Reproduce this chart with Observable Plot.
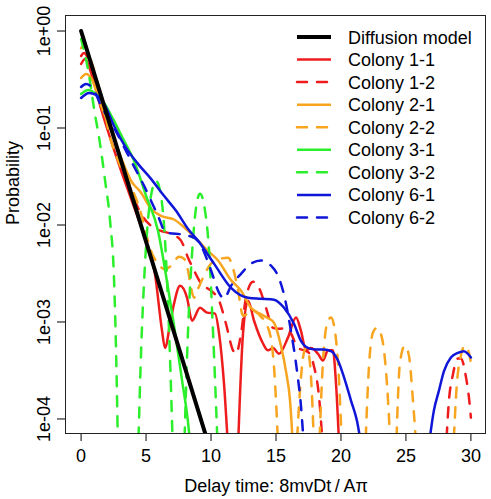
<!DOCTYPE html>
<html><head><meta charset="utf-8">
<script src="https://cdn.jsdelivr.net/npm/d3@7"></script>
<script src="https://cdn.jsdelivr.net/npm/@observablehq/plot@0.6"></script>
<style>
html,body{margin:0;padding:0;background:#fff;}
#chart{width:491px;height:499px;}
</style></head><body><div id="chart"></div>
<script>
// ---- data (4e-5 = falls below the axis, NaN = gap) ----
const xTicks = [0, 5, 10, 15, 20, 25, 30];
const yTicks = [1, 0.1, 0.01, 0.001, 0.0001];
const yTickLabels = ["1e+00", "1e-01", "1e-02", "1e-03", "1e-04"];
const xLabel = "Delay time: 8mvDt\u2009/\u2009A\u03C0";
const yLabel = "Probability";
const seriesNames = ["Diffusion model", "Colony 1-1", "Colony 1-2", "Colony 2-1", "Colony 2-2", "Colony 3-1", "Colony 3-2", "Colony 6-1", "Colony 6-2"];

const diffusion = [[0,1],[2,0.135],[4,0.0183],[6,0.00248],[8,0.000335],[10,0.0000454]];

const colony11 = [[0,0.457],[0.31,0.515],[0.77,0.37],[1.54,0.157],[2.31,0.0736],[3.08,0.0362],[3.85,0.0186],[4.85,0.0077],[5.69,0.0031],[6.23,0.00081],[6.46,0.00054],[6.85,0.00096],[7.15,0.00154],[7.62,0.00236],[8.15,0.00178],[8.54,0.00103],[9.15,0.0014],[9.69,0.00125],[10.31,0.00122],[10.62,0.00076],[11.0,0.00023],[11.35,4e-5],[11.7,NaN],[12.05,4e-5],[12.46,0.00076],[12.85,0.00166],[13.31,0.00103],[14.0,0.0006],[14.38,0.00051],[14.77,0.00054],[15.23,0.00047],[15.92,0.00069],[16.54,0.00111],[16.92,0.00081],[17.31,0.00051],[17.69,0.00054],[18.23,0.00047],[18.62,0.0004],[19.0,0.00051],[19.38,0.00051],[19.62,0.00023],[19.9,4e-5]];

const colony12 = [[0,0.553],[0.23,0.593],[0.77,0.426],[1.54,0.204],[2.31,0.1],[3.08,0.0458],[3.85,0.0225],[4.62,0.013],[5.38,0.0098],[6.15,0.0087],[6.92,0.0081],[7.69,0.0069],[8.23,0.0046],[8.69,0.0034],[9.23,0.0025],[10.0,0.0021],[10.62,0.00166],[11.15,0.00096],[11.69,0.00051],[11.92,0.00047],[12.31,0.00076],[12.69,0.00178],[13.23,0.0026],[13.69,0.00225],[14.23,0.0014],[14.77,0.00087],[15.23,0.00085],[15.77,0.00087],[16.15,0.00076],[16.69,0.00054],[17.15,0.00051],[17.54,0.00048],[17.92,0.00035],[18.31,0.00017],[18.65,4e-5],[23.0,NaN],[28.05,4e-5],[28.31,0.000155],[28.62,0.00029],[29.0,0.00042],[29.23,0.00042],[29.62,0.00027],[29.85,0.000166],[30.0,0.000103]];

const colony21 = [[0,0.328],[0.38,0.361],[0.77,0.328],[1.54,0.169],[2.31,0.0934],[3.08,0.0492],[3.85,0.0285],[4.62,0.0215],[5.38,0.0147],[6.15,0.0124],[7.15,0.0114],[8.23,0.0087],[9.0,0.0069],[9.77,0.0054],[10.54,0.0043],[11.54,0.0027],[12.31,0.0021],[13.08,0.0014],[13.85,0.0012],[14.38,0.0011],[14.85,0.00098],[15.38,0.00057],[15.77,0.00031],[16.08,0.000155],[16.35,4e-5]];

const colony22 = [[0,0.668],[0.23,0.70],[0.77,0.49],[1.54,0.214],[2.31,0.0736],[2.85,0.0458],[3.62,0.0285],[4.08,0.021],[4.62,0.013],[5.08,0.0074],[5.38,0.0054],[5.85,0.0041],[6.46,0.0035],[6.92,0.0038],[7.54,0.0047],[7.92,0.0045],[8.23,0.0034],[8.46,0.00225],[8.69,0.00178],[9.0,0.0022],[9.46,0.003],[10.0,0.004],[10.77,0.0045],[11.31,0.0046],[11.69,0.0036],[12.08,0.0021],[12.46,0.00116],[12.85,0.00122],[13.31,0.00128],[13.85,0.00113],[14.31,0.00093],[14.69,0.00057],[14.85,0.00034],[15.0,0.000155],[15.2,4e-5],[15.9,NaN],[16.55,4e-5],[16.85,0.0002],[17.08,0.00043],[17.31,0.00054],[17.54,0.00045],[17.75,0.0002],[17.95,4e-5],[18.1,NaN],[18.3,4e-5],[18.62,0.0004],[18.92,0.00095],[19.23,0.00111],[19.54,0.0008],[19.85,0.00025],[20.1,4e-5],[21.0,NaN],[21.85,4e-5],[22.15,0.00034],[22.46,0.00078],[22.77,0.00087],[23.15,0.00069],[23.54,0.00023],[23.85,4e-5],[24.05,NaN],[24.23,4e-5],[24.54,0.00038],[24.92,0.00057],[25.23,0.00045],[25.54,0.000155],[25.85,4e-5],[27.2,NaN],[28.62,4e-5],[28.92,0.00023],[29.23,0.00045],[29.54,0.00057],[29.85,0.00048],[30.0,0.00038]];

const colony31 = [[0,0.2245],[0.54,0.247],[1.15,0.2245],[1.77,0.181],[2.46,0.124],[3.23,0.0772],[4.08,0.0458],[5.0,0.02],[5.92,0.0087],[6.54,0.003],[7.15,0.00092],[7.77,0.00025],[8.2,0.0001],[8.5,4e-5]];

const colony32 = [[0,0.827],[0.62,0.344],[1.0,0.157],[1.46,0.0686],[1.85,0.0285],[2.23,0.011],[2.54,0.00266],[2.69,0.00051],[2.85,4e-5],[3.6,NaN],[4.38,4e-5],[4.62,0.00051],[4.85,0.00266],[5.08,0.0087],[5.38,0.02],[5.77,0.0285],[6.15,0.02],[6.46,0.0069],[6.77,0.00081],[7.08,4e-5],[7.5,NaN],[7.92,4e-5],[8.23,0.00081],[8.46,0.0034],[8.77,0.0124],[9.15,0.021],[9.54,0.014],[9.85,0.0054],[10.15,0.00081],[10.54,4e-5]];

const colony61 = [[0,0.204],[0.62,0.23],[1.15,0.219],[1.77,0.177],[2.54,0.105],[3.46,0.0624],[4.38,0.0427],[5.38,0.0299],[6.38,0.02],[7.31,0.014],[8.23,0.0091],[9.0,0.0069],[10.23,0.004],[11.54,0.00225],[12.85,0.00178],[13.85,0.00174],[14.85,0.0017],[15.62,0.0014],[16.38,0.00096],[16.92,0.00064],[17.46,0.00054],[18.08,0.00052],[18.69,0.00052],[19.23,0.0005],[19.77,0.0004],[20.23,0.00027],[20.77,0.000155],[21.23,0.000096],[21.7,4e-5],[24.2,NaN],[26.65,4e-5],[27.15,0.000122],[27.54,0.000196],[27.92,0.00031],[28.46,0.00043],[29.0,0.00048],[29.46,0.0005],[29.77,0.00047],[30.0,0.00043]];

const colony62 = [[0,0.265],[0.38,0.284],[0.92,0.253],[1.54,0.169],[2.54,0.1],[3.85,0.0458],[4.85,0.0253],[5.92,0.0124],[6.54,0.0083],[7.46,0.0081],[8.69,0.0074],[9.23,0.0061],[10.0,0.0034],[10.62,0.002],[11.0,0.00174],[11.54,0.00236],[12.31,0.00314],[13.08,0.004],[13.85,0.0043],[14.62,0.0038],[15.15,0.003],[15.62,0.0019],[16.15,0.00081],[16.62,0.00031],[16.92,0.000137],[17.2,4e-5]];

// ---- styles ----
const RED = "#ee1c1c", ORANGE = "#f7a41f", GREEN = "#2bef2b", BLUE = "#0f16d8";
const series = [
  {name: seriesNames[1], data: colony11, color: RED, dash: false},
  {name: seriesNames[2], data: colony12, color: RED, dash: true},
  {name: seriesNames[3], data: colony21, color: ORANGE, dash: false},
  {name: seriesNames[4], data: colony22, color: ORANGE, dash: true},
  {name: seriesNames[5], data: colony31, color: GREEN, dash: false},
  {name: seriesNames[6], data: colony32, color: GREEN, dash: true},
  {name: seriesNames[7], data: colony61, color: BLUE, dash: false},
  {name: seriesNames[8], data: colony62, color: BLUE, dash: true}
];
const DASH = "10,10";
const FONT = "'Liberation Sans', Arial, Helvetica, sans-serif";
const M = {left: 65, right: 5, top: 15, bottom: 65, width: 491, height: 499};

const lineMarks = series.map(s => Plot.line(s.data, {
  x: d => d[0], y: d => d[1], stroke: s.color, strokeWidth: 2.5,
  strokeDasharray: s.dash ? DASH : null, strokeLinecap: "round",
  curve: "monotone-x", clip: true
}));

const chart = Plot.plot({
  width: M.width, height: M.height,
  marginLeft: M.left, marginRight: M.right, marginTop: M.top, marginBottom: M.bottom,
  x: {domain: [-1.2, 31.2]},
  y: {type: "log", domain: [Math.pow(10, -4.16), Math.pow(10, 0.16)]},
  style: {fontFamily: FONT, fontSize: "18px", background: "white", color: "black", overflow: "visible"},
  marks: [
    ...lineMarks,
    Plot.line(diffusion, {x: d => d[0], y: d => d[1], stroke: "black", strokeWidth: 4, strokeLinecap: "round", clip: true}),
    Plot.axisX({ticks: xTicks, tickSize: 7, tickPadding: 8, fontSize: 18, label: null}),
    Plot.axisY({ticks: yTicks, tickSize: 8, tickPadding: 8, tickRotate: -90, fontSize: 18, label: null,
      tickFormat: d => yTickLabels[yTicks.indexOf(d)]}),
    Plot.text([xLabel], {text: d => d, frameAnchor: "bottom", dy: 57, lineAnchor: "bottom", fontSize: 18}),
    Plot.text([yLabel], {text: d => d, frameAnchor: "left", dx: -47, rotate: -90, lineAnchor: "bottom", fontSize: 18})
  ]
});
document.getElementById("chart").appendChild(chart);

// ---- box around the plot region ----
d3.select(chart).append("rect")
  .attr("x", M.left + 0.5).attr("y", M.top + 0.5)
  .attr("width", M.width - M.left - M.right - 1).attr("height", M.height - M.top - M.bottom - 1)
  .attr("fill", "none").attr("stroke", "#222").attr("stroke-width", 1);

// ---- legend (inside the plot, top right) ----
const legendItems = [{name: seriesNames[0], color: "black", dash: false, w: 4}]
  .concat(series.map(s => ({name: s.name, color: s.color, dash: s.dash, w: 2.5})));
const lg = d3.select(chart).append("g")
  .attr("font-family", FONT).attr("font-size", 18).attr("text-anchor", "start");
legendItems.forEach((it, i) => {
  const y = 37 + i * 22.56;
  lg.append("line").attr("x1", 297).attr("x2", 331).attr("y1", y).attr("y2", y)
    .attr("stroke", it.color).attr("stroke-width", it.w).attr("stroke-linecap", it.dash ? "round" : "butt")
    .attr("stroke-dasharray", it.dash ? DASH : null);
  lg.append("text").attr("x", 348).attr("y", y + 6.5).attr("fill", "black")
    .attr("text-anchor", "start").text(it.name);
});
</script>
</body></html>
